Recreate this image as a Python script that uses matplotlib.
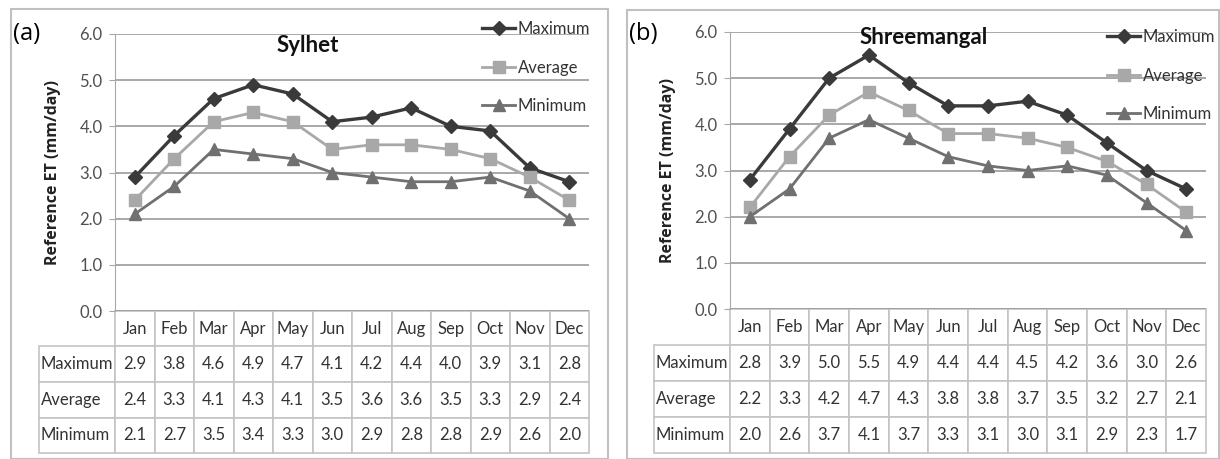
import matplotlib
matplotlib.use('Agg')
import matplotlib.pyplot as plt
from matplotlib.patches import Rectangle

months = ['Jan', 'Feb', 'Mar', 'Apr', 'May', 'Jun', 'Jul', 'Aug', 'Sep', 'Oct', 'Nov', 'Dec']
series_names = ['Maximum', 'Average', 'Minimum']

sylhet_max = [2.9, 3.8, 4.6, 4.9, 4.7, 4.1, 4.2, 4.4, 4.0, 3.9, 3.1, 2.8]
sylhet_avg = [2.4, 3.3, 4.1, 4.3, 4.1, 3.5, 3.6, 3.6, 3.5, 3.3, 2.9, 2.4]
sylhet_min = [2.1, 2.7, 3.5, 3.4, 3.3, 3.0, 2.9, 2.8, 2.8, 2.9, 2.6, 2.0]

shree_max = [2.8, 3.9, 5.0, 5.5, 4.9, 4.4, 4.4, 4.5, 4.2, 3.6, 3.0, 2.6]
shree_avg = [2.2, 3.3, 4.2, 4.7, 4.3, 3.8, 3.8, 3.7, 3.5, 3.2, 2.7, 2.1]
shree_min = [2.0, 2.6, 3.7, 4.1, 3.7, 3.3, 3.1, 3.0, 3.1, 2.9, 2.3, 1.7]

yticks = [0.0, 1.0, 2.0, 3.0, 4.0, 5.0, 6.0]

W, H = 1220, 459
narrow = ['Lato', 'DejaVu Sans']
styles = [dict(color='#3a3a3a', marker='D', ms=7, lw=2.4),
          dict(color='#a8a8a8', marker='s', ms=8.5, lw=2.0),
          dict(color='#707070', marker='^', ms=8.5, lw=2.0)]

fig = plt.figure(figsize=(W / 100, H / 100), dpi=100)


def px_axes(l, t, r, b):
    return fig.add_axes([l / W, 1 - b / H, (r - l) / W, (b - t) / H])


def draw_panel(box, ax_px, tag, title, title_xy, leg_xy, data):
    # panel frame
    bl, bt, br, bb = box
    fig.patches.append(Rectangle((bl / W, 1 - bb / H), (br - bl) / W, (bb - bt) / H,
                                 transform=fig.transFigure, fill=False,
                                 edgecolor='#c0c0c0', lw=1.5))
    l, t, r, b = ax_px
    ax = px_axes(l, t, r, b)
    x = list(range(len(months)))
    handles = []
    for name, vals, st in zip(series_names, data, styles):
        h, = ax.plot(x, vals, label=name, **st)
        handles.append(h)
    ax.set_xlim(-0.5, len(months) - 0.5)
    ax.set_ylim(0, 6)
    ax.set_yticks(yticks)
    ax.set_yticklabels([f'{v:.1f}' for v in yticks], family=narrow, fontsize=12, color='#505050')
    ax.set_xticks([])
    ax.grid(axis='y', color='#9a9a9a', lw=1.2)
    ax.set_axisbelow(True)
    for s in ['top', 'right', 'bottom']:
        ax.spines[s].set_visible(False)
    ax.spines['left'].set_color('#a8a8a8')
    ax.tick_params(axis='y', length=4, color='#a8a8a8', pad=5)
    ax.set_ylabel('Reference ET (mm/day)', family='Open Sans', fontweight='bold',
                  fontsize=11.5, color='#222222', labelpad=13)

    # data table under the plot
    rows = [[name] + [f'{v:.1f}' for v in vals] for name, vals in zip(series_names, data)]
    widths = [76] + [(r - l) / len(months)] * len(months)
    tbl_left = ax_px[0] - 76
    tbl = ax.table(cellText=rows, colLabels=[''] + months, colWidths=widths,
                   cellLoc='center',
                   bbox=[(tbl_left - l) / (r - l), -(453 - b) / (b - t),
                         (r - tbl_left) / (r - l), (453 - b) / (b - t)])
    tbl.auto_set_font_size(False)
    for (i, j), cell in tbl.get_celld().items():
        cell.set_edgecolor('#c4c4c4')
        cell.set_linewidth(1.2)
        cell.get_text().set_fontsize(12)
        cell.get_text().set_family(narrow)
        cell.get_text().set_color('#333333')
        if j == 0:
            cell.get_text().set_ha('left')
            cell.PAD = 0.02
        if i == 0 and j == 0:
            cell.set_edgecolor('none')

    fig.text((bl + 2) / W, 1 - 34 / H, tag, family='Open Sans', fontsize=17,
             ha='left', va='center', color='black')
    fig.text(title_xy[0] / W, 1 - title_xy[1] / H, title, family='Lato',
             fontweight='bold', fontsize=16, ha='center', va='center', color='#111111')
    ax.legend(handles=handles, loc='upper left', frameon=False,
              bbox_to_anchor=(leg_xy[0] / W, 1 - leg_xy[1] / H),
              bbox_transform=fig.transFigure, borderpad=0, borderaxespad=0,
              handlelength=2.0, handletextpad=0.15, labelspacing=1.35,
              prop=dict(family=narrow, size=12), labelcolor='#333333')
    return ax


draw_panel((11, 9, 608, 459), (115, 34, 589, 311), '(a)', 'Sylhet', (308, 45), (482, 21),
           [sylhet_max, sylhet_avg, sylhet_min])
draw_panel((627, 10, 1219, 459), (730, 32, 1206, 309), '(b)', 'Shreemangal', (924, 38), (1107, 29),
           [shree_max, shree_avg, shree_min])

fig.savefig('out.png', dpi=100)
